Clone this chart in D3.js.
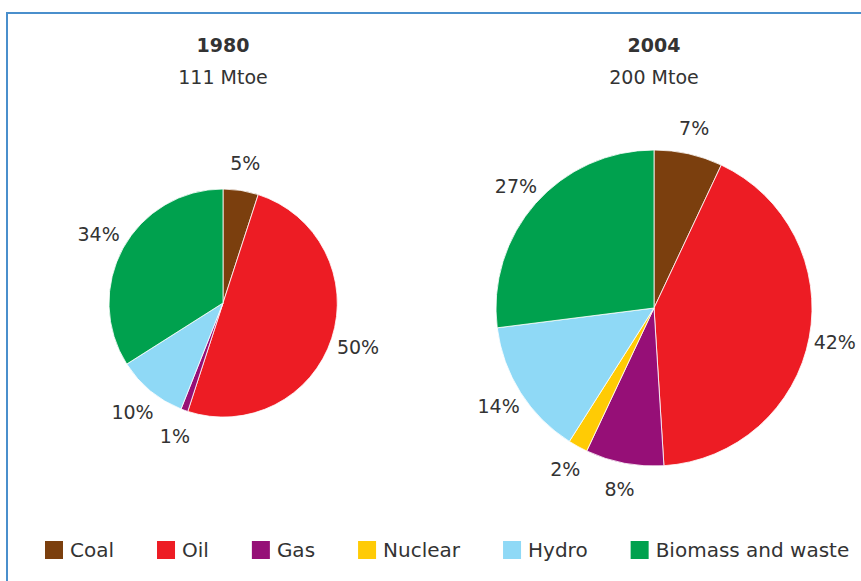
<!DOCTYPE html>
<html>
<head>
<meta charset="utf-8">
<script src="https://cdn.jsdelivr.net/npm/d3@7"></script>
<style>
  body { margin: 0; background: #fff; }
  svg { display: block; font-family: "DejaVu Sans", sans-serif; }
</style>
</head>
<body>
<div id="chart"></div>
<script>
const fuels = ['Coal', 'Oil', 'Gas', 'Nuclear', 'Hydro', 'Biomass and waste'];
const fuelColors = ['#7b3f0e', '#ed1c24', '#960f77', '#ffcb05', '#8fd9f6', '#00a14e'];

const years = ['1980', '2004'];
const totals = ['111 Mtoe', '200 Mtoe'];
const shares1980 = [5, 50, 1, 0, 10, 34];
const shares2004 = [7, 42, 8, 2, 14, 27];
const shares = [shares1980, shares2004];

const width = 861;
const height = 581;
const textColor = '#333';

const svg = d3.select('#chart').append('svg')
    .attr('width', width)
    .attr('height', height);

// frame (cut off at right and bottom like the original)
svg.append('rect')
    .attr('x', 7)
    .attr('y', 13)
    .attr('width', width + 20)
    .attr('height', height + 20)
    .attr('fill', 'none')
    .attr('stroke', '#4a8fcc')
    .attr('stroke-width', 2);

// pie placement: radius grows with the total
const pies = [
    {cx: 223, cy: 303, r: 114, labelGap: 28},
    {cx: 654, cy: 308, r: 158, labelGap: 26}
];

const color = d3.scaleOrdinal().domain(fuels).range(fuelColors);
const pie = d3.pie().sort(null).value(d => d.value);

pies.forEach((p, i) => {
    const data = pie(fuels.map((f, j) => ({fuel: f, value: shares[i][j]})));
    const arc = d3.arc().innerRadius(0).outerRadius(p.r);
    const labelArc = d3.arc().innerRadius(p.r + p.labelGap).outerRadius(p.r + p.labelGap);

    const g = svg.append('g').attr('transform', `translate(${p.cx}, ${p.cy})`);

    g.selectAll('path')
        .data(data.filter(d => d.value > 0))
        .join('path')
        .attr('d', arc)
        .attr('fill', d => color(d.data.fuel))
        .attr('stroke', '#fff')
        .attr('stroke-width', 0.8);

    g.selectAll('text')
        .data(data.filter(d => d.value > 0))
        .join('text')
        .attr('transform', d => `translate(${labelArc.centroid(d)})`)
        .attr('text-anchor', 'middle')
        .attr('dy', '0.36em')
        .attr('font-size', 19)
        .attr('fill', textColor)
        .text(d => d.value + '%');

    // titles
    svg.append('text')
        .attr('x', p.cx)
        .attr('y', 52)
        .attr('text-anchor', 'middle')
        .attr('font-size', 19)
        .attr('font-weight', 'bold')
        .attr('fill', textColor)
        .text(years[i]);
    svg.append('text')
        .attr('x', p.cx)
        .attr('y', 84)
        .attr('text-anchor', 'middle')
        .attr('font-size', 19)
        .attr('fill', textColor)
        .text(totals[i]);
});

// legend
const legend = svg.append('g').attr('transform', 'translate(45, 550)');
let lx = 0;
fuels.forEach(f => {
    const item = legend.append('g').attr('transform', `translate(${lx}, 0)`);
    item.append('rect')
        .attr('x', 0)
        .attr('y', -9)
        .attr('width', 18)
        .attr('height', 18)
        .attr('fill', color(f));
    const t = item.append('text')
        .attr('x', 25)
        .attr('dy', '0.36em')
        .attr('font-size', 20)
        .attr('fill', textColor)
        .text(f);
    lx += 25 + t.node().getComputedTextLength() + 43;
});
</script>
</body>
</html>
